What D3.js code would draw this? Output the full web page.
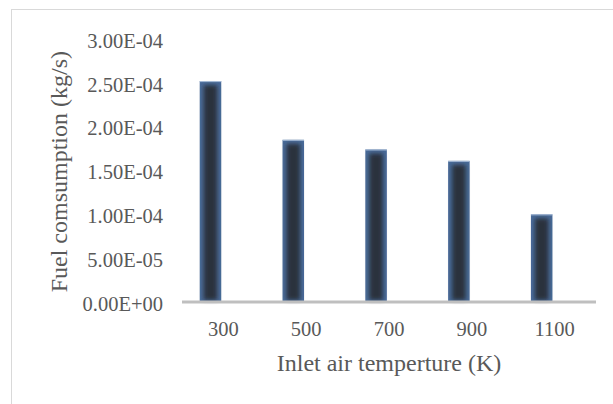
<!DOCTYPE html>
<html>
<head>
<meta charset="utf-8">
<script src="https://cdn.jsdelivr.net/npm/d3@7"></script>
<style>
  html, body { margin: 0; padding: 0; background: #fff; }
  svg { display: block; }
  text { font-family: "Liberation Serif", "Times New Roman", serif; fill: #595959; }
</style>
</head>
<body>
<svg id="chart" width="613" height="404"></svg>
<script>
// Fuel consumption against inlet air temperature
const categories = ["300", "500", "700", "900", "1100"];
const fuelConsumption = [2.52e-4, 1.85e-4, 1.74e-4, 1.61e-4, 1.00e-4];
const yTicks = [0, 5e-5, 1e-4, 1.5e-4, 2e-4, 2.5e-4, 3e-4];
const yTickLabels = ["0.00E+00", "5.00E-05", "1.00E-04", "1.50E-04", "2.00E-04", "2.50E-04", "3.00E-04"];
const xTitle = "Inlet air temperture (K)";
const yTitle = "Fuel comsumption (kg/s)";

const svg = d3.select("#chart");

// chart area frame
svg.append("rect")
  .attr("x", 11.5).attr("y", 9.5)
  .attr("width", 640).attr("height", 420)
  .attr("fill", "#fff")
  .attr("stroke", "#d9d9d9")
  .attr("stroke-width", 1);

const x = d3.scaleBand().domain(categories).range([182, 596]).padding(0);
const y = d3.scaleLinear().domain([0, 3e-4]).range([302, 39]);

// bar shading: bluish rim, dark blurred core
const defs = svg.append("defs");
const blur = defs.append("filter").attr("id", "soft")
  .attr("x", "-50%").attr("y", "-10%").attr("width", "200%").attr("height", "120%");
blur.append("feGaussianBlur").attr("stdDeviation", 2.2);

const barOffset = 0.214, barWidth = 0.26;
const bars = svg.append("g");
categories.forEach((c, i) => {
  const bx = x(c) + x.bandwidth() * barOffset;
  const bw = x.bandwidth() * barWidth;
  const top = y(fuelConsumption[i]);
  const h = y(0) - top;
  const g = bars.append("g");
  g.append("rect")
    .attr("x", bx).attr("y", top).attr("width", bw).attr("height", h)
    .attr("fill", "#4a6c9a");
  g.append("rect")
    .attr("x", bx + 4).attr("y", top + 4).attr("width", bw - 8).attr("height", Math.max(0, h - 6))
    .attr("fill", "#29313d")
    .attr("filter", "url(#soft)");
  g.append("line")
    .attr("x1", bx).attr("x2", bx + bw).attr("y1", top + 0.5).attr("y2", top + 0.5)
    .attr("stroke", "#a9bdd8").attr("stroke-width", 1);
});

// category axis line
svg.append("line")
  .attr("x1", x.range()[0]).attr("x2", x.range()[1])
  .attr("y1", y(0)).attr("y2", y(0))
  .attr("stroke", "#bfbfbf").attr("stroke-width", 3);

// value axis labels
const yAxis = d3.axisLeft(y).tickValues(yTicks)
  .tickFormat((d, i) => yTickLabels[i]).tickSize(0).tickPadding(0);
const yg = svg.append("g").attr("transform", "translate(163,0)").call(yAxis);
yg.select(".domain").remove();
yg.selectAll("text")
  .attr("dy", "0.35em").attr("y", 1)
  .style("font-family", '"Liberation Serif", "Times New Roman", serif')
  .style("font-size", "20.5px").style("fill", "#595959");

// category labels
const xAxis = d3.axisBottom(x).tickSize(0).tickPadding(0);
const xg = svg.append("g").attr("transform", "translate(0,329)").call(xAxis);
xg.select(".domain").remove();
xg.selectAll("text")
  .attr("y", 0).attr("dy", "0.35em")
  .style("font-family", '"Liberation Serif", "Times New Roman", serif')
  .style("font-size", "20.5px").style("fill", "#595959");

// axis titles
svg.append("text")
  .attr("x", (x.range()[0] + x.range()[1]) / 2)
  .attr("y", 371)
  .attr("text-anchor", "middle")
  .style("font-size", "24px")
  .text(xTitle);

svg.append("text")
  .attr("transform", "translate(67," + 171.7 + ") rotate(-90)")
  .attr("text-anchor", "middle")
  .style("font-size", "24px")
  .text(yTitle);
</script>
</body>
</html>
